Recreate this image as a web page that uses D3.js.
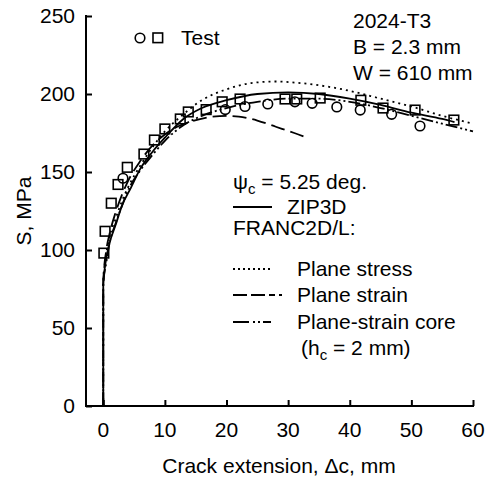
<!DOCTYPE html>
<html>
<head>
<meta charset="utf-8">
<title>R-curve 2024-T3</title>
<script src="https://cdn.jsdelivr.net/npm/d3@7"></script>
<style>
  body { margin: 0; background: #fff; }
  text { font-family: "Liberation Sans", Arial, sans-serif; fill: #000; }
</style>
</head>
<body>
<svg id="chart"></svg>
<script>
// test data
var testCircleDc = [3.2, 19.8, 23, 26.7, 31.1, 33.9, 37.9, 41.7, 46.8, 51.4];
var testCircleS  = [146, 190, 192, 193.6, 195, 194, 191.7, 189.7, 187, 179.5];
var testSquareDc = [0.1, 0.3, 1.3, 2.4, 3.9, 6.6, 8.3, 10.0, 12.5, 13.8, 16.7, 19.3, 22.2, 29.5, 31.4, 35.2, 41.8, 45.4, 50.6, 56.9];
var testSquareS  = [98, 112, 130, 142, 153, 161.5, 170.5, 177.6, 184, 188.5, 190, 195, 196.8, 196.8, 196.8, 197.4, 196, 191, 189.7, 183.3];

// ZIP3D
var zipDc = [0, 0, 0.3, 1, 2, 3, 4.5, 6, 8, 10, 13, 16, 20, 25, 30, 35, 40, 45, 50, 55, 57];
var zipS  = [0, 78, 90, 104, 116, 128, 140, 152, 163, 172, 184, 191, 196, 200, 201, 200, 197, 193, 188, 184, 182];
// FRANC2D/L plane stress
var pStressDc = [0, 0, 0.5, 1, 2, 3, 4, 6, 8, 10, 13, 16, 20, 24, 28, 32, 36, 40, 45, 50, 55, 60];
var pStressS  = [0, 80, 98, 108, 120, 131, 140, 154, 166, 176, 187, 196, 203, 207, 208, 207, 205, 202, 197, 192, 186, 181];
// FRANC2D/L plane strain
var pStrainDc = [0, 0, 0.5, 1, 2, 3, 4, 6, 8, 10, 12, 14, 17, 20, 22, 25, 28, 31, 33];
var pStrainS  = [0, 80, 100, 110, 124, 135, 144, 157, 167, 174, 179, 182, 185, 186, 185.5, 183, 179, 175, 172];
// FRANC2D/L plane-strain core
var coreDc = [0, 0, 0.5, 1, 2, 3, 4, 6, 8, 10, 13, 16, 20, 25, 30, 35, 40, 45, 50, 55, 60];
var coreS  = [0, 78, 92, 104, 117, 128, 138, 151, 161, 170, 180, 186, 191, 195, 197, 197, 195, 191, 186, 181, 176];

var xTicks = [0, 10, 20, 30, 40, 50, 60];
var yTicks = [0, 50, 100, 150, 200, 250];

var W = 486, H = 478, FS = 21;
var svg = d3.select("#chart").attr("width", W).attr("height", H);

var x = d3.scaleLinear().domain([-2.8, 60]).range([86, 473]);
var y = d3.scaleLinear().domain([0, 250]).range([406, 16]);

function pairs(a, b) { return a.map(function(v, i) { return [v, b[i]]; }); }

var line = d3.line()
    .x(function(d) { return x(d[0]); })
    .y(function(d) { return y(d[1]); })
    .curve(d3.curveMonotoneX);

// axes (ticks point inward)
svg.append("g")
    .attr("transform", "translate(0," + y(0) + ")")
    .call(d3.axisTop(x).tickValues(xTicks).tickSize(6).tickFormat(""));
svg.append("g")
    .attr("transform", "translate(" + x.range()[0] + ",0)")
    .call(d3.axisRight(y).tickValues(yTicks).tickSize(6).tickFormat(""));
svg.selectAll(".domain").remove();
svg.selectAll(".tick line").attr("stroke", "#000").attr("stroke-width", 2);

svg.append("path")
    .attr("d", "M" + x.range()[0] + "," + (y(250) - 1) + "V" + y(0) + "H" + (x.range()[1] + 1))
    .attr("fill", "none").attr("stroke", "#000").attr("stroke-width", 2);

svg.selectAll(".xlab").data(xTicks).enter().append("text")
    .attr("x", function(d) { return x(d); })
    .attr("y", 437)
    .attr("text-anchor", "middle")
    .attr("font-size", FS)
    .text(function(d) { return d; });

svg.selectAll(".ylab").data(yTicks).enter().append("text")
    .attr("x", 75)
    .attr("y", function(d) { return y(d) + 7; })
    .attr("text-anchor", "end")
    .attr("font-size", FS)
    .text(function(d) { return d; });

svg.append("text")
    .attr("x", 279)
    .attr("y", 473)
    .attr("text-anchor", "middle")
    .attr("font-size", FS)
    .text("Crack extension, \u0394c, mm");

svg.append("text")
    .attr("transform", "translate(31,211) rotate(-90)")
    .attr("text-anchor", "middle")
    .attr("font-size", FS)
    .text("S, MPa");

// curves
var series = [
  {dc: pStressDc, s: pStressS, dash: "2,4"},
  {dc: pStrainDc, s: pStrainS, dash: "14,6"},
  {dc: coreDc, s: coreS, dash: "12,3,2,3,2,3"},
  {dc: zipDc, s: zipS, dash: null}
];
series.forEach(function(sr) {
  svg.append("path")
      .datum(pairs(sr.dc, sr.s))
      .attr("d", line)
      .attr("fill", "none")
      .attr("stroke", "#000")
      .attr("stroke-width", 1.8)
      .attr("stroke-dasharray", sr.dash);
});

// test points
svg.selectAll(".circ").data(pairs(testCircleDc, testCircleS)).enter().append("circle")
    .attr("cx", function(d) { return x(d[0]); })
    .attr("cy", function(d) { return y(d[1]); })
    .attr("r", 4.8)
    .attr("fill", "none").attr("stroke", "#000").attr("stroke-width", 1.6);

svg.selectAll(".sq").data(pairs(testSquareDc, testSquareS)).enter().append("rect")
    .attr("x", function(d) { return x(d[0]) - 4.8; })
    .attr("y", function(d) { return y(d[1]) - 4.8; })
    .attr("width", 9.6).attr("height", 9.6)
    .attr("fill", "none").attr("stroke", "#000").attr("stroke-width", 1.6);

// legend: test
svg.append("circle").attr("cx", 140).attr("cy", 38).attr("r", 4.8)
    .attr("fill", "none").attr("stroke", "#000").attr("stroke-width", 1.6);
svg.append("rect").attr("x", 153).attr("y", 33).attr("width", 9.6).attr("height", 9.6)
    .attr("fill", "none").attr("stroke", "#000").attr("stroke-width", 1.6);
svg.append("text").attr("x", 181).attr("y", 45).attr("font-size", FS).text("Test");

// specimen info
var info = ["2024-T3", "B = 2.3 mm", "W = 610 mm"];
svg.selectAll(".info").data(info).enter().append("text")
    .attr("x", 353)
    .attr("y", function(d, i) { return 28 + i * 26; })
    .attr("font-size", FS)
    .text(function(d) { return d; });

// legend: models
var psi = svg.append("text").attr("x", 233).attr("y", 189).attr("font-size", FS);
psi.append("tspan").text("\u03c8");
psi.append("tspan").attr("font-size", 15).attr("dy", 5).text("c");
psi.append("tspan").attr("dy", -5).text(" = 5.25 deg.");

svg.append("text").attr("x", 233).attr("y", 235).attr("font-size", FS).text("FRANC2D/L:");

var legendRows = [
  {label: "ZIP3D", dash: null, y0: 207, x1: 272, tx: 287},
  {label: "Plane stress", dash: "2,3", y0: 269, x1: 270, tx: 297},
  {label: "Plane strain", dash: "14,4,14,4,6,4", y0: 295, x1: 282, tx: 297},
  {label: "Plane-strain core", dash: "16,4,2,3,2,3,8", y0: 322, x1: 283, tx: 297}
];
legendRows.forEach(function(r) {
  svg.append("line")
      .attr("x1", 233).attr("x2", r.x1)
      .attr("y1", r.y0).attr("y2", r.y0)
      .attr("stroke", "#000").attr("stroke-width", 1.8)
      .attr("stroke-dasharray", r.dash);
  svg.append("text").attr("x", r.tx).attr("y", r.y0 + 7).attr("font-size", FS).text(r.label);
});

var hc = svg.append("text").attr("x", 301).attr("y", 355).attr("font-size", FS);
hc.append("tspan").text("(h");
hc.append("tspan").attr("font-size", 15).attr("dy", 5).text("c");
hc.append("tspan").attr("dy", -5).text(" = 2 mm)");
</script>
</body>
</html>
